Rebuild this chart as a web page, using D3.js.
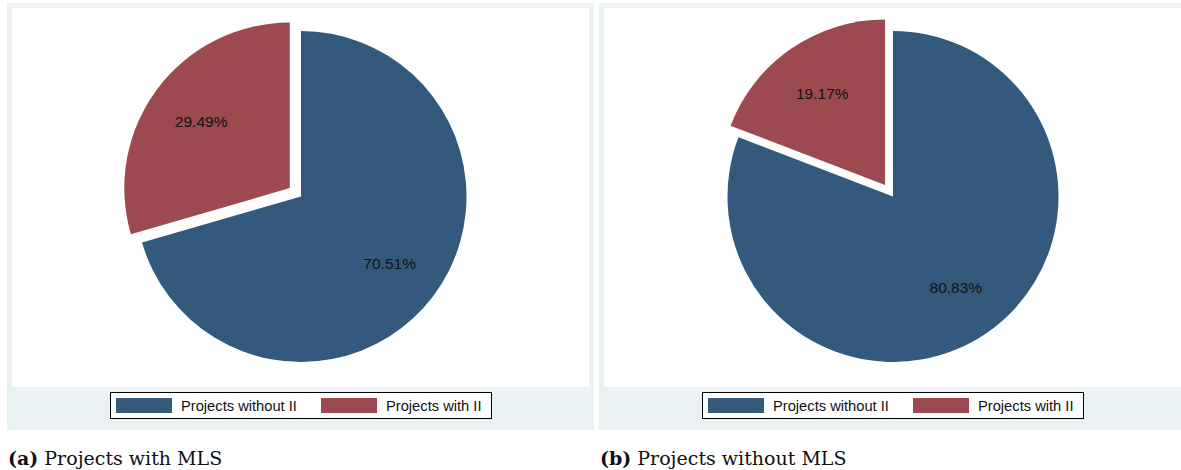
<!DOCTYPE html>
<html><head><meta charset="utf-8">
<script src="https://cdn.jsdelivr.net/npm/d3@7"></script>
<style>body{margin:0;background:#fff}svg{display:block}</style>
</head><body>
<svg id="chart" width="1181" height="470"></svg>
<script>
const categories = ["Projects without II", "Projects with II"];
const valuesWithMLS = [70.51, 29.49];
const valuesWithoutMLS = [80.83, 19.17];
const captionTags = ["(a)", "(b)"];
const captionTexts = ["Projects with MLS", "Projects without MLS"];
const colors = ["#33597d", "#9c4a50"];

const svg = d3.select("#chart");
const panels = [valuesWithMLS, valuesWithoutMLS];
const panelX = [7, 599];
const R = 165.5, explode = 14;
const color = d3.scaleOrdinal().domain(categories).range(colors);

panels.forEach((vals, i) => {
  const g = svg.append("g").attr("transform", `translate(${panelX[i]},0)`);
  g.append("rect").attr("x", 0).attr("y", 3).attr("width", 587).attr("height", 427).attr("fill", "#eaf2f3");
  g.append("rect").attr("x", 5).attr("y", 8).attr("width", 577).attr("height", 379).attr("fill", "#ffffff");

  const data = categories.map((c, k) => ({cat: c, v: vals[k], k}));
  const pie = d3.pie().sort(null).value(d => d.v);
  const arcs = pie(data);
  const arc = d3.arc().innerRadius(0).outerRadius(R);
  const cx = 294, cy = 196.5;
  const pg = g.append("g").attr("transform", `translate(${cx},${cy})`);
  arcs.forEach(a => {
    const mid = (a.startAngle + a.endAngle) / 2;
    const off = a.data.k === 1 ? explode : 0;
    const ox = Math.sin(mid) * off, oy = -Math.cos(mid) * off;
    const sg = pg.append("g").attr("transform", `translate(${ox},${oy})`);
    sg.append("path").attr("d", arc(a)).attr("fill", color(a.data.cat));
    const lr = R * 0.67;
    sg.append("text")
      .attr("x", Math.sin(mid) * lr).attr("y", -Math.cos(mid) * lr)
      .attr("text-anchor", "middle").attr("dominant-baseline", "central")
      .attr("font-family", "Liberation Sans, Arial, sans-serif").attr("font-size", 15.5)
      .attr("fill", "#111").text(a.data.v.toFixed(2) + "%");
  });

  // legend
  const lg = g.append("g").attr("transform", "translate(103,392)");
  lg.append("rect").attr("x", 0.5).attr("y", 0.5).attr("width", 381).attr("height", 26)
    .attr("fill", "#fff").attr("stroke", "#000").attr("stroke-width", 1);
  const itemX = [6, 211];
  categories.forEach((c, k) => {
    lg.append("rect").attr("x", itemX[k]).attr("y", 6).attr("width", 56).attr("height", 15).attr("fill", color(c));
    lg.append("text").attr("x", itemX[k] + 65).attr("y", 14).attr("dominant-baseline", "central")
      .attr("font-family", "Liberation Sans, Arial, sans-serif").attr("font-size", 14.7)
      .attr("fill", "#111").text(c);
  });

  // caption
  const cap = svg.append("text").attr("x", panelX[i] + 1).attr("y", 465)
    .attr("font-family", "DejaVu Serif, Liberation Serif, serif").attr("font-size", 19).attr("fill", "#111");
  cap.append("tspan").attr("font-weight", "bold").text(captionTags[i]);
  cap.append("tspan").text(" " + captionTexts[i]);
});
</script>
</body></html>
